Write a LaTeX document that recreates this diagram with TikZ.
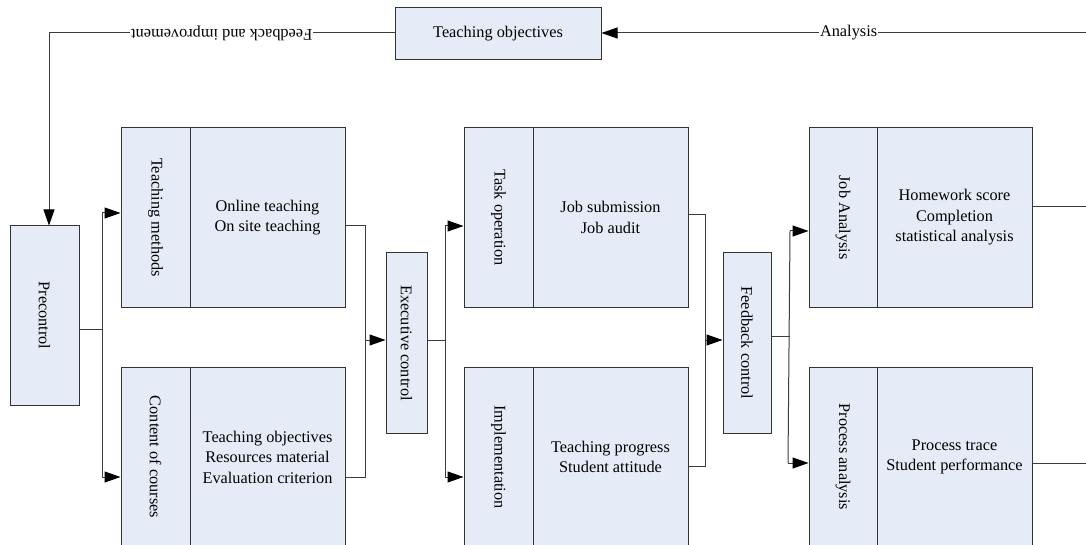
\documentclass[tikz,border=0pt]{standalone}
\usepackage{fontspec}
\setmainfont{Liberation Serif}
\usetikzlibrary{arrows.meta}
\definecolor{boxfill}{HTML}{E6ECF7}
\definecolor{boxline}{HTML}{333333}
\definecolor{wire}{HTML}{3C3C3C}
\begin{document}
\begin{tikzpicture}[x=1pt,y=1pt,
  box/.style={draw=boxline,fill=boxfill,line width=1pt,rectangle,inner sep=0pt,align=center,
    font=\fontsize{16.3}{20.5}\selectfont},
  wireline/.style={draw=wire,line width=1pt},
  arr/.style={wireline,-{Triangle[length=16pt,width=11pt,fill=black,color=black]}},
  lbl/.style={fill=white,inner sep=1pt,font=\fontsize{16.3}{20}\selectfont}]
\useasboundingbox (0,0) rectangle (1086,-545);
\clip (0,0) rectangle (1086,-545);
% top
\node[box,minimum width=206,minimum height=52] (TO) at (498,-34) {Teaching objectives};
% precontrol
\node[box,minimum width=69,minimum height=179] (pre) at (44.5,-315.5) {\rotatebox{-90}{Precontrol}};
% column 1
\node[box,minimum width=69,minimum height=179] (tmL) at (155.5,-217.5) {\rotatebox{-90}{Teaching methods}};
\node[box,minimum width=155,minimum height=179] (tmR) at (267.5,-217.5) {Online teaching\\On site teaching};
\node[box,minimum width=69,minimum height=180] (ccL) at (155.5,-457) {\rotatebox{-90}{Content of courses}};
\node[box,minimum width=155,minimum height=180] (ccR) at (267.5,-457) {Teaching objectives\\Resources material\\Evaluation criterion};
% executive
\node[box,minimum width=41,minimum height=180] (ex) at (406.5,-343) {\rotatebox{-90}{Executive control}};
% column 2
\node[box,minimum width=69,minimum height=179] (toL) at (498.5,-217.5) {\rotatebox{-90}{Task operation}};
\node[box,minimum width=155,minimum height=179] (toR) at (610.5,-217.5) {Job submission\\Job audit};
\node[box,minimum width=69,minimum height=180] (imL) at (498.5,-457) {\rotatebox{-90}{Implementation}};
\node[box,minimum width=155,minimum height=180] (imR) at (610.5,-457) {Teaching progress\\Student attitude};
% feedback
\node[box,minimum width=48,minimum height=180] (fb) at (747,-343) {\rotatebox{-90}{Feedback control}};
% column 3
\node[box,minimum width=68,minimum height=179] (jaL) at (843,-217.5) {\rotatebox{-90}{Job Analysis}};
\node[box,minimum width=155,minimum height=179] (jaR) at (954.5,-217.5) {Homework score\\Completion\\statistical analysis};
\node[box,minimum width=68,minimum height=180] (paL) at (843,-457) {\rotatebox{-90}{Process analysis}};
\node[box,minimum width=155,minimum height=180] (paR) at (954.5,-457) {Process trace\\Student performance};
% top connectors
\coordinate (rin) at (1086,-33);
\coordinate (fbk) at (49,-33);
\draw[arr] (rin) -- node[lbl,pos=0.49]{Analysis} (rin -| TO.east);
\draw[arr] (TO.west |- fbk) -- node[lbl,rotate=180,pos=0.5]{Feedback and improvement} (fbk) -- (fbk |- pre.north);
% precontrol fan-out
\coordinate (p1) at (102,-329);
\draw[wireline] (pre.east |- p1) -- (p1);
\coordinate (p2) at (102,-213);
\coordinate (p3) at (102,-477);
\draw[wireline] (p2) -- (p3);
\draw[arr] (p2) -- (p2 -| tmL.west);
\draw[arr] (p3) -- (p3 -| ccL.west);
% to executive
\coordinate (e1) at (365,-226);
\coordinate (e2) at (365,-477);
\draw[wireline] (tmR.east |- e1) -- (e1) -- (e2) -- (ccR.east |- e2);
\coordinate (e3) at (365,-340);
\draw[arr] (e3) -- (e3 -| ex.west);
% executive fan-out
\coordinate (x1) at (445,-340);
\coordinate (x2) at (445,-226);
\coordinate (x3) at (445,-477);
\draw[wireline] (ex.east |- x1) -- (x1);
\draw[wireline] (x2) -- (x3);
\draw[arr] (x2) -- (x2 -| toL.west);
\draw[arr] (x3) -- (x3 -| imL.west);
% to feedback
\coordinate (f1) at (705,-215);
\coordinate (f2) at (705,-466);
\draw[wireline] (toR.east |- f1) -- (f1) -- (f2) -- (imR.east |- f2);
\coordinate (f3) at (705,-340);
\draw[arr] (f3) -- (f3 -| fb.west);
% feedback fan-out
\coordinate (g1) at (790,-336);
\coordinate (g2) at (790,-231);
\coordinate (g3) at (788,-463);
\draw[wireline] (fb.east |- g1) -- (g1);
\draw[wireline] (g2) -- (g3);
\draw[arr] (g2) -- (g2 -| jaL.west);
\draw[arr] (g3) -- (g3 -| paL.west);
% outputs to right edge
\coordinate (o1) at (1086,-207);
\coordinate (o2) at (1086,-463);
\draw[wireline] (jaR.east |- o1) -- (o1);
\draw[wireline] (paR.east |- o2) -- (o2);
\end{tikzpicture}
\end{document}
